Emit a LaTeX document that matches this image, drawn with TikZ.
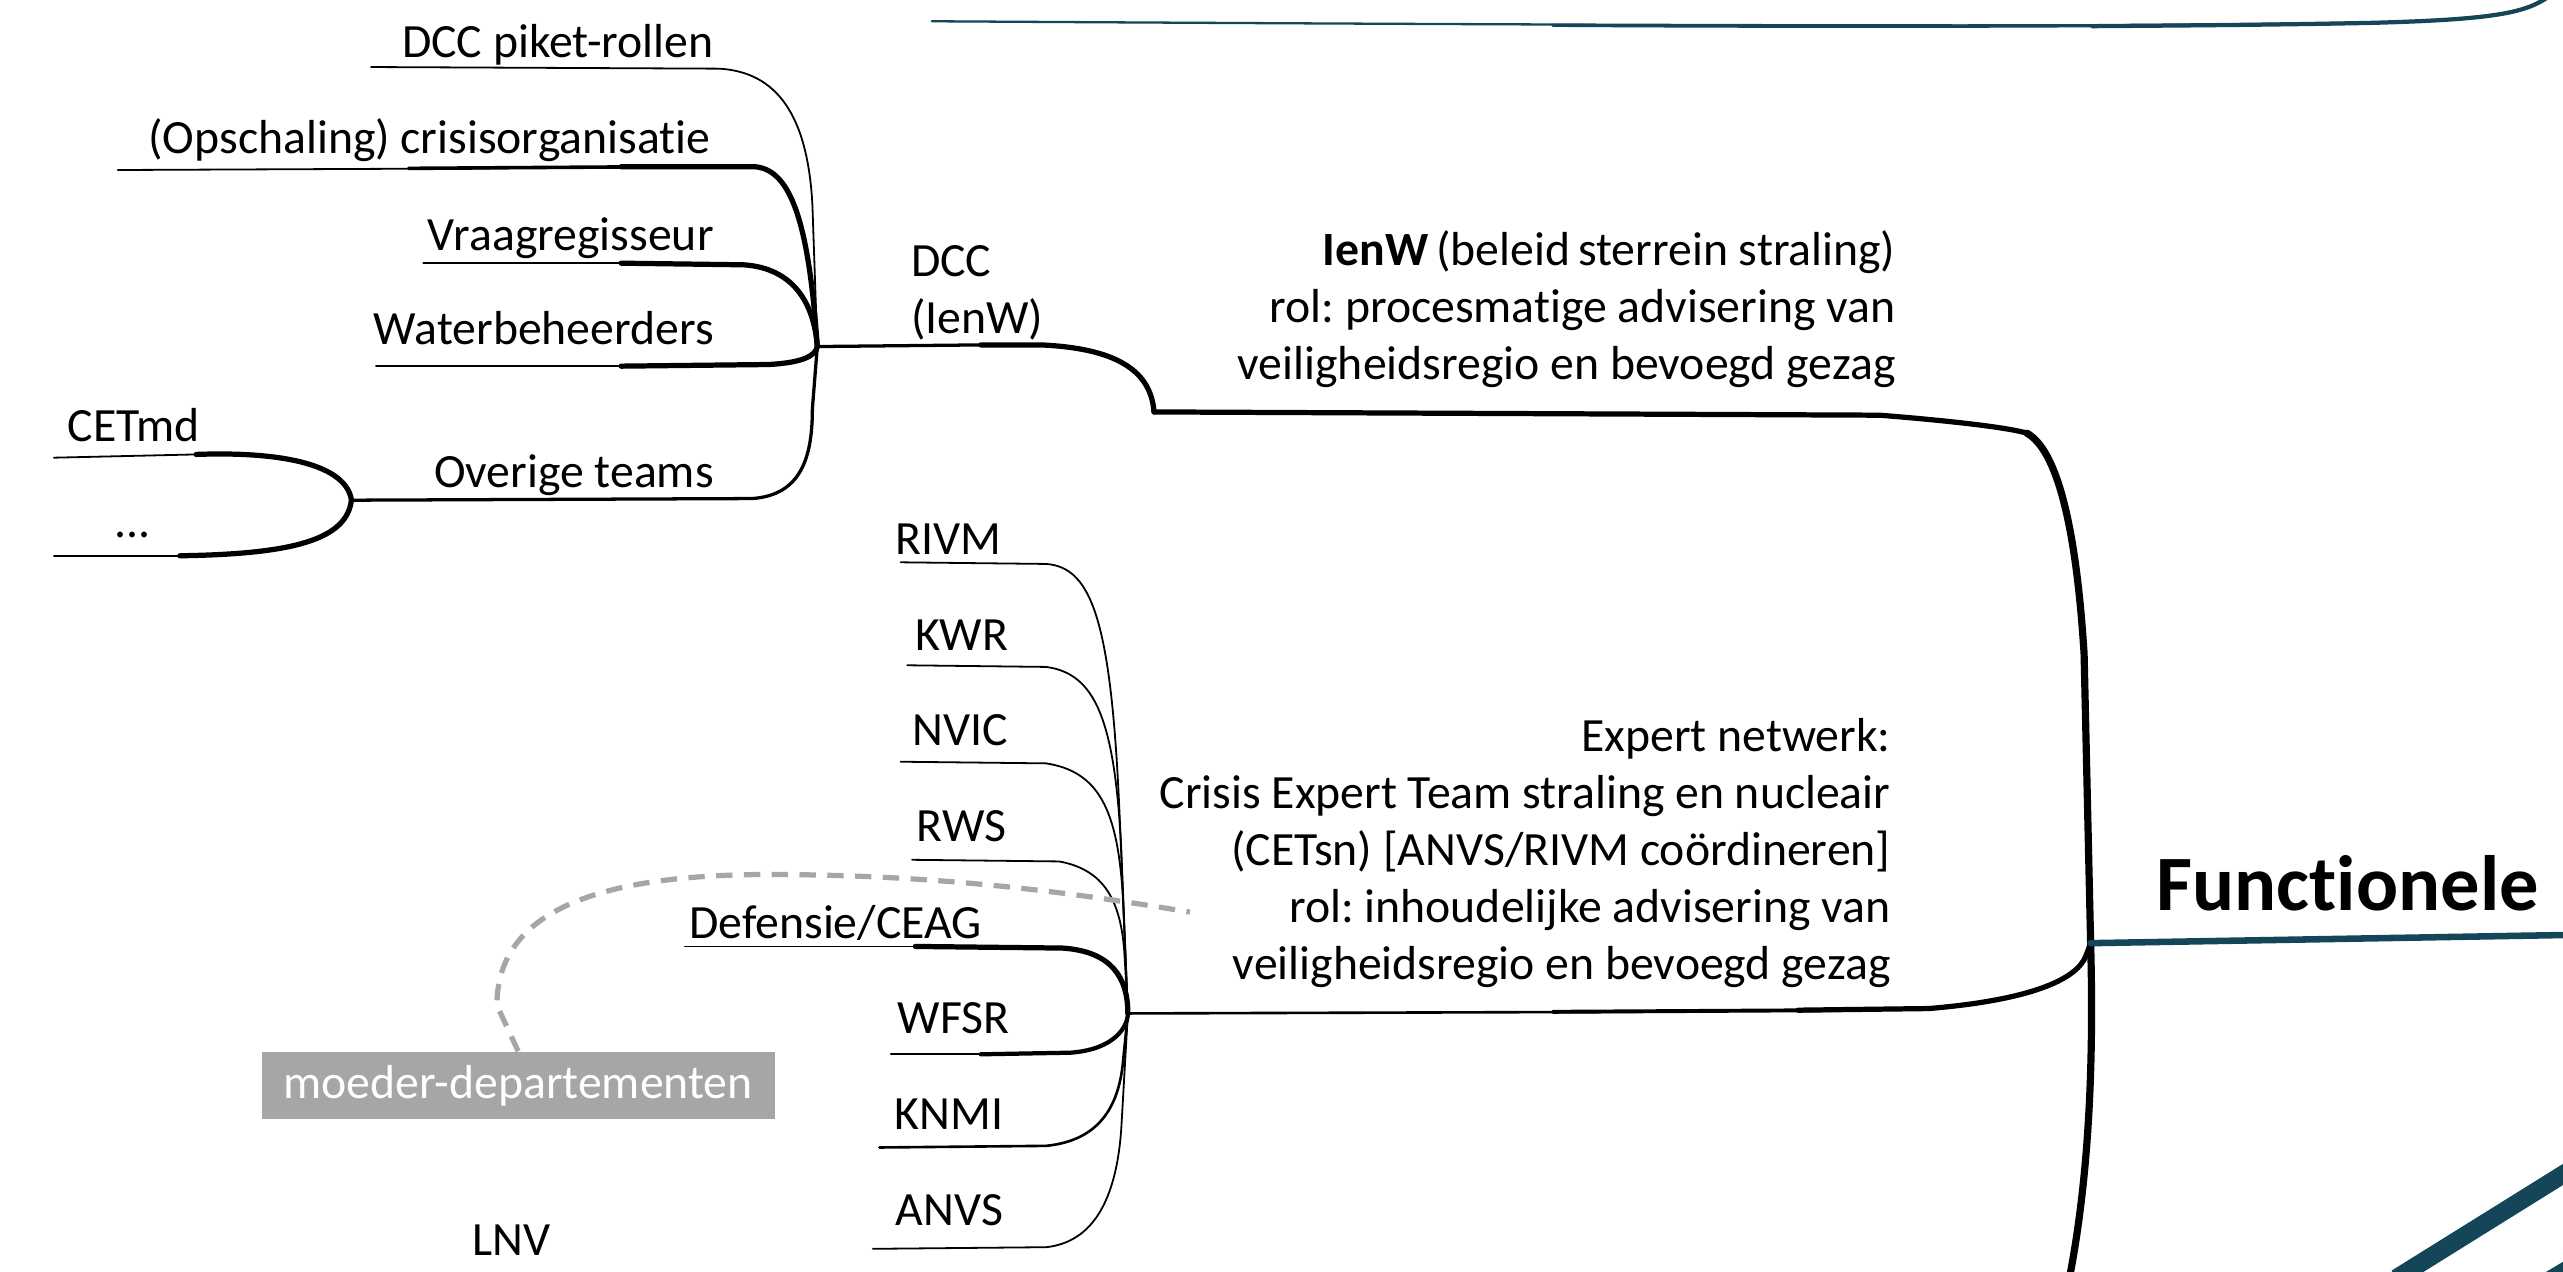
\documentclass[tikz,border=0pt]{standalone}
\usepackage{fontspec}
\setmainfont{Carlito}[Ligatures=NoCommon]
\definecolor{teal1}{RGB}{20,69,89}
\definecolor{gry}{RGB}{166,166,166}
\newcommand\lblfont{\fontsize{14.6}{17.4}\selectfont\frenchspacing}
\newcommand\bigfont{\fontsize{24}{28}\selectfont\bfseries}
\begin{document}
\begin{tikzpicture}[x=0.5pt,y=-0.5pt,line cap=round,line join=round,
  lbl/.style={inner sep=0pt,font=\lblfont},
  thinln/.style={line width=0.55pt},
  medln/.style={line width=1pt},
  thkln/.style={line width=1.6pt},
  spine/.style={line width=2.2pt},
  tealln/.style={draw=teal1,line width=2pt},
  dashln/.style={draw=gry,line width=1.6pt,dash pattern=on 5pt off 3.5pt,line cap=butt}]
\useasboundingbox (0,0) rectangle (1568,778);

% hubs
\coordinate (hDCC) at (500,212);
\coordinate (hCET) at (215,306);
\coordinate (hExp) at (690,620);
\coordinate (hMain) at (1279,577);
\coordinate (hIen) at (706,252);

% ---------- DCC cluster ----------
\node[lbl,anchor=base east] (piket) at (437,35) {DCC piket-rollen};
\node[lbl,anchor=base east] (opsch) at (435,94) {(Opschaling) crisisorganisatie};
\node[lbl,anchor=base east] (vraag) at (437,153) {Vraagregisseur};
\node[lbl,anchor=base east] (water) at (437,211) {Waterbeheerders};
\node[lbl,anchor=base east] (overig) at (437,298) {Overige teams};
\node[lbl,anchor=base west] (cetmd) at (41,270) {CETmd};
\node[lbl,anchor=base] (dots) at (81,329) {...};
\node[lbl,anchor=base west,align=left] (dcc) at (557,204) {DCC\\(IenW)};

\coordinate (piketS) at (227,41);
\coordinate (opschS) at (72,104);
\coordinate (vraagS) at (259,161);
\coordinate (waterS) at (230,224);
\coordinate (cetS) at (33,280);
\coordinate (dotsS) at (33,340);

\draw[thinln] (piketS) -- (440,42) .. controls (475,44) and (494,70) .. (497,125) -- (hDCC);
\draw[thinln] (opschS) -- (300,103);
\draw[line width=1.1pt] (250,103) -- (400,102);
\draw[thkln] (380,102) -- (462,102) .. controls (485,104) and (495,140) .. (hDCC);
\draw[thinln] (vraagS) -- (380,161);
\draw[thkln] (380,161) -- (455,162) .. controls (485,164) and (498,185) .. (hDCC);
\draw[thinln] (waterS) -- (380,224);
\draw[thkln] (380,224) -- (470,223) .. controls (490,222) and (499,218) .. (hDCC);
\draw[medln] (hCET) -- (460,305) .. controls (490,303) and (497,280) .. (497,250) -- (hDCC);
\draw[thinln] (cetS) -- (120,278);
\draw[thkln] (120,278) .. controls (175,276) and (212,285) .. (hCET);
\draw[thinln] (dotsS) -- (110,340);
\draw[thkln] (110,340) .. controls (180,339) and (212,330) .. (hCET);

\draw[medln] (hDCC) -- (600,211);
\draw[thkln] (600,211) -- (637,211) .. controls (680,213) and (704,225) .. (hIen);

% ---------- IenW branch ----------
\node[lbl,anchor=base east,align=right] (ienw) at (1160,232)
  {\textbf{IenW}\,(beleid\,sterrein straling)\\rol: procesmatige advisering van\\veiligheidsregio en bevoegd gezag};
\draw[thkln] (hIen) -- (1150,254) .. controls (1200,258) and (1230,262) .. (1240,265)
  .. controls (1258,275) and (1270,320) .. (1275,400) -- (hMain);

% ---------- Expert cluster ----------
\node[lbl,anchor=base east] (rivm) at (613,339) {RIVM};
\node[lbl,anchor=base east] (kwr) at (617,398) {KWR};
\node[lbl,anchor=base east] (nvic) at (617,456) {NVIC};
\node[lbl,anchor=base east] (rws) at (616,515) {RWS};
\node[lbl,anchor=base east] (def) at (601,574) {Defensie/CEAG};
\node[lbl,anchor=base east] (wfsr) at (618,632) {WFSR};
\node[lbl,anchor=base east] (knmi) at (614,691) {KNMI};
\node[lbl,anchor=base east] (anvs) at (614,750) {ANVS};
\node[lbl,anchor=base] (lnv) at (313,768) {LNV};

\coordinate (rivmS) at (551,344);
\coordinate (kwrS) at (555,407);
\coordinate (nvicS) at (551,466);
\coordinate (rwsS) at (558,526);
\coordinate (defS) at (419,579);
\coordinate (wfsrS) at (545,645);
\coordinate (knmiS) at (538,702);
\coordinate (anvsS) at (534,764);

\draw[thinln] (rivmS) -- (640,345) .. controls (668,347) and (680,380) .. (685,500) -- (hExp);
\draw[thinln] (kwrS) -- (640,408) .. controls (670,412) and (682,440) .. (686,520) -- (hExp);
\draw[thinln] (nvicS) -- (640,467) .. controls (672,472) and (684,495) .. (687,550) -- (hExp);
\draw[thinln] (rwsS) -- (648,527) .. controls (675,532) and (686,550) .. (688,585) -- (hExp);
\draw[thinln] (defS) -- (560,579);
\draw[thkln] (560,579) -- (650,580) .. controls (680,582) and (690,598) .. (hExp);
\draw[thinln] (wfsrS) -- (600,645);
\draw[line width=1.3pt] (600,645) -- (655,644) .. controls (682,642) and (690,628) .. (hExp);
\draw[line width=0.8pt] (knmiS) -- (640,701) .. controls (670,698) and (684,680) .. (687,650) -- (hExp);
\draw[thinln] (anvsS) -- (640,763) .. controls (668,760) and (683,735) .. (686,690) -- (hExp);

\node[lbl,anchor=base east,align=right] (expert) at (1157,599)
  {Expert netwerk:\\Crisis Expert Team straling en nucleair\\(CETsn) [ANVS/RIVM co\"ordineren]\\rol: inhoudelijke advisering van\\veiligheidsregio en bevoegd gezag};
\draw[line width=0.8pt] (hExp) -- (1000,619);
\draw[line width=1.2pt] (950,619) -- (1120,618);
\draw[thkln] (1100,618) -- (1180,617) .. controls (1240,612) and (1270,600) .. (1276,585) -- (hMain);

% ---------- moeder-departementen ----------
\node[inner sep=0pt,fill=gry,text=white,font=\lblfont,minimum width=157pt,minimum height=20.5pt] (moeder) at (317,664) {moeder-departementen};
\coordinate (dashE) at (728,558);
\draw[dashln] (moeder.north) -- (304,615) .. controls (304,560) and (360,535) .. (470,535) .. controls (570,535) and (650,545) .. (dashE);

% ---------- main spine & teal ----------
\draw[spine] (1240,265) .. controls (1258,275) and (1270,320) .. (1275,400) -- (hMain);
\draw[spine] (hMain) .. controls (1281,650) and (1278,720) .. (1266,782);
\coordinate (funcE) at (1570,572);
\draw[tealln] (hMain) -- (funcE);
\node[inner sep=0pt,anchor=base west,font=\bigfont] (func) at (1319,557) {Functionele};

\coordinate (topS) at (570,13);
\coordinate (topE) at (1559,-2);
\draw[draw=teal1,line width=0.7pt] (topS) .. controls (900,15) and (1300,17) .. (1450,14);
\draw[draw=teal1,line width=0.95pt] (950,15.5) .. controls (1100,16.5) and (1300,16.5) .. (1450,14);
\draw[draw=teal1,line width=1.3pt] (1280,16) .. controls (1350,15.5) and (1400,15) .. (1450,14) .. controls (1525,12) and (1545,8) .. (topE);

\coordinate (diagS) at (1466,782);
\coordinate (diagE) at (1572,716);
\draw[draw=teal1,line width=5.5pt,line cap=butt] (diagS) -- (diagE);
\coordinate (diag2S) at (1557,782);
\coordinate (diag2E) at (1572,773);
\draw[draw=teal1,line width=3pt,line cap=butt] (diag2S) -- (diag2E);
\end{tikzpicture}
\end{document}
